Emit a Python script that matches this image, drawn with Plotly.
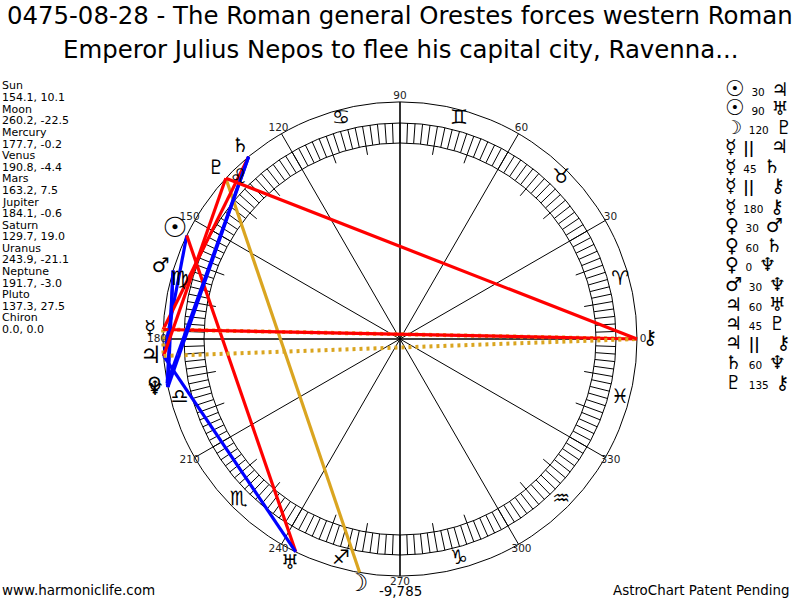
import plotly.graph_objects as go

# planets : glyph, longitude, declination
names = ["Sun", "Moon", "Mercury", "Venus", "Mars", "Jupiter", "Saturn", "Uranus", "Neptune", "Pluto", "Chiron"]
glyphs = ["☉", "☽", "☿", "♀", "♂", "♃", "♄", "♅", "♆", "♇", "⚷"]
glyph_sizes = [28, 24, 19, 20, 20, 24, 20, 20, 20, 20, 20]
longitudes = [154.1, 260.2, 177.7, 190.8, 163.2, 184.1, 129.7, 243.9, 191.7, 137.3, 0.0]
declinations = [10.1, -22.5, -0.2, -4.4, 7.5, -0.6, 19.0, -21.1, -3.0, 27.5, 0.0]

# aspects in the order of the list on the right
aspect_from = ["Sun", "Sun", "Moon", "Mercury", "Mercury", "Mercury", "Mercury", "Venus",
               "Venus", "Venus", "Mars", "Jupiter", "Jupiter", "Jupiter", "Saturn", "Pluto"]
aspect_kind = ["30", "90", "120", "||", "45", "||", "180", "30",
               "60", "0", "30", "60", "45", "||", "60", "135"]
aspect_to = ["Jupiter", "Uranus", "Pluto", "Jupiter", "Saturn", "Chiron", "Chiron", "Mars",
             "Saturn", "Neptune", "Neptune", "Uranus", "Pluto", "Chiron", "Neptune", "Chiron"]

zodiac = ["♈", "♉", "♊", "♋", "♌", "♍", "♎", "♏", "♐", "♑", "♒", "♓"]
zodiac_lon = [15, 45, 75, 105, 135, 165, 195, 225, 255, 285, 315, 345]
degree_marks = [0, 30, 60, 90, 120, 150, 180, 210, 240, 270, 300, 330]

title_lines = ["0475-08-28 - The Roman general Orestes forces western Roman",
               "Emperor Julius Nepos to flee his capital city, Ravenna..."]

FONT = "DejaVu Sans"
RED, BLUE, GOLD = "#ff0000", "#0000ff", "#daa520"
kind_colour = {"0": BLUE, "30": BLUE, "60": BLUE, "45": RED, "90": RED, "135": RED, "180": RED,
               "120": GOLD, "||": GOLD}

lon_of = dict(zip(names, longitudes))
glyph_of = dict(zip(names, glyphs))

fig = go.Figure()


def spokes(thetas, r0, r1, width=1):
    # one trace for a whole bundle of radial lines, gaps with None
    r, t = [], []
    for a in thetas:
        r += [r0, r1, None]
        t += [a, a, None]
    fig.add_trace(go.Scatterpolar(r=r, theta=t, mode="lines", line=dict(color="black", width=width),
                                  hoverinfo="skip", cliponaxis=False))


# hatching of the ring, long ticks, 30 degree spokes
spokes(range(0, 360, 2), 196, 216, 1)
spokes([a for a in range(0, 360, 10) if a % 30], 187, 196, 1)
spokes([a for a in degree_marks if a % 90], 0, 237, 1)
spokes([a for a in degree_marks if a % 90 == 0], 0, 237, 1.6)

# aspect lines, the dotted ones a bit fatter so they show past the red
for a, k, b in zip(aspect_from, aspect_kind, aspect_to):
    fig.add_trace(go.Scatterpolar(
        r=[237, 237], theta=[lon_of[a], lon_of[b]], mode="lines",
        line=dict(color=kind_colour[k], width=4 if k == "||" else 3.2, dash="3px,4px" if k == "||" else "solid"),
        hoverinfo="skip", cliponaxis=False))

fig.add_trace(go.Scatterpolar(r=[228] * 12, theta=zodiac_lon, mode="text", text=zodiac,
                              textfont=dict(family=FONT, size=20, color="black"), cliponaxis=False))
fig.add_trace(go.Scatterpolar(r=[243] * 12, theta=degree_marks, mode="text", text=[str(d) for d in degree_marks],
                              textfont=dict(family=FONT, size=10.5, color="#222"), cliponaxis=False))
fig.add_trace(go.Scatterpolar(r=[250] * 11, theta=longitudes, mode="text", text=glyphs,
                              textfont=dict(family=FONT, size=glyph_sizes, color="black"), cliponaxis=False))

annots = []


def label(x, y, text, size=10, anchor="left"):
    annots.append(dict(x=x, y=y, xref="paper", yref="paper", text=text, showarrow=False, xanchor=anchor,
                       yanchor="middle", align=anchor, font=dict(family=FONT, size=size, color="black")))


# title
label(0.5, 1 - 16 / 600, title_lines[0], 24.4, "center")
label(0.5, 1 - 49 / 600, title_lines[1], 24.4, "center")

# left column
left_y = 86
for n, lon, dec in zip(names, longitudes, declinations):
    label(0, 1 - left_y / 600, n, 11)
    label(0, 1 - (left_y + 11.6) / 600, f"{lon:.1f}, {dec:.1f}", 11)
    left_y += 23.2

# right column
right_y = 88
for a, k, b in zip(aspect_from, aspect_kind, aspect_to):
    if k == "||":
        mid = '<span style="font-size:15px;font-weight:bold">||</span>\u00a0\u00a0\u00a0'
    else:
        mid = k
    size_a = 22 if a == "Sun" else 19
    txt = (f'<span style="font-size:{size_a}px">{glyph_of[a]}</span>\u00a0 {mid} \u00a0'
           f'<span style="font-size:19px">{glyph_of[b]}</span>')
    label(723 / 800, 1 - right_y / 600, txt, 10.5)
    right_y += 19.6

# bottom
label(0.5, 1 - 591 / 600, "-9,785", 13.4, "center")
label(0, 1 - 590 / 600, "www.harmoniclife.com", 13.5)
label(792 / 800, 1 - 590 / 600, "AstroChart Patent Pending", 13.4, "right")

fig.update_layout(
    width=800, height=600, margin=dict(l=0, r=0, t=0, b=0), paper_bgcolor="white",
    showlegend=False, annotations=annots,
    polar=dict(
        # 1 radial unit = 1 pixel, center at (400, 339)
        domain=dict(x=[139 / 800, 661 / 800], y=[0, 522 / 600]),
        bgcolor="white",
        radialaxis=dict(range=[0, 261], tickvals=[196, 216, 237], showticklabels=False, ticks="",
                        showline=False, showgrid=True, gridcolor="black", gridwidth=1),
        angularaxis=dict(showgrid=False, showline=False, showticklabels=False, ticks="",
                         rotation=0, direction="counterclockwise"),
    ),
)

# the default body margin would push the plot 8px off the window
fig.write_html("out.html", config={"displayModeBar": False}, post_script="document.body.style.margin='0';")
